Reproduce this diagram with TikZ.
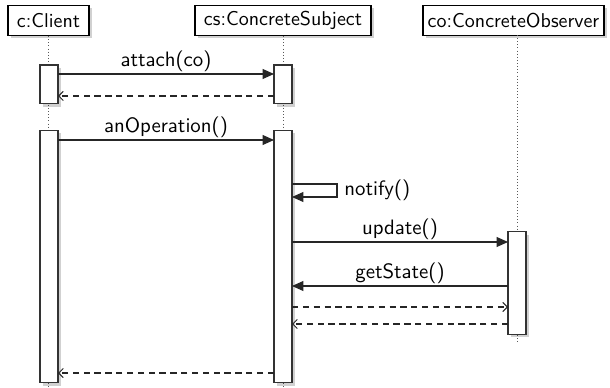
\documentclass[tikz,border=0pt]{standalone}
\usetikzlibrary{arrows.meta,shadows}
\begin{document}
\begin{tikzpicture}[x=0.48pt,y=-0.48pt,
  font=\sffamily,
  shad/.style={drop shadow={shadow xshift=1.3pt, shadow yshift=-1.3pt, opacity=0.18, fill=black}},
  obj/.style={draw=black, line width=0.6pt, fill=white, inner sep=0pt, minimum height=14.4pt, font=\sffamily\fontsize{9.6}{11}\selectfont, shad},
  act/.style={draw=black!80, line width=0.5pt, fill=white, inner sep=0pt, minimum width=8.64pt, shad},
  life/.style={dash pattern=on 0.4pt off 1.1pt, draw=black!65, line width=0.4pt},
  call/.style={-{Triangle[length=5.5pt,width=4.8pt]}, line width=0.5pt, draw=black!85},
  ret/.style={-{Straight Barb[length=2.2pt,width=4.4pt]}, dash pattern=on 3pt off 2.2pt, line width=0.5pt, draw=black!85},
  lbl/.style={above, inner sep=1pt}]

\useasboundingbox (0,0) rectangle (610,388);

% lifeline ends
\coordinate (cend) at (48.5,388);
\coordinate (send) at (283,388);
\coordinate (otop) at (517,35);
\coordinate (oend) at (517,343);

% headers
\node[obj, minimum width=38.9pt] (c) at (48.5,20.5) {c:Client};
\node[obj, minimum width=84.5pt] (s) at (283,20.5) {cs:ConcreteSubject};
\node[obj, minimum width=86.9pt] (o) at (513.5,20.5) {co:ConcreteObserver};

% lifelines
\draw[life] (c.south) -- (cend);
\draw[life] (s.south) -- (send);
\draw[life] (otop) -- (oend);

% activations
\node[act, minimum height=18.7pt] (ca1) at (49,84.5) {};
\node[act, minimum height=18.7pt] (sa1) at (283,84.5) {};
\node[act, minimum height=121.4pt] (ca2) at (49,256.5) {};
\node[act, minimum height=121.4pt] (sa2) at (283,256.5) {};
\node[act, minimum height=49pt] (oa) at (517,283) {};

% message end points
\coordinate (m1a) at (58,74);   \coordinate (m1b) at (274,74);
\coordinate (m2a) at (274,96);  \coordinate (m2b) at (58,96);
\coordinate (m3a) at (58,140);  \coordinate (m3b) at (274,140);
\coordinate (m4a) at (292,184); \coordinate (m4c) at (337,197); \coordinate (m4b) at (292,197);
\coordinate (m5a) at (292,242); \coordinate (m5b) at (508,242);
\coordinate (m6a) at (508,286); \coordinate (m6b) at (292,286);
\coordinate (m7a) at (292,307); \coordinate (m7b) at (508,307);
\coordinate (m8a) at (508,324); \coordinate (m8b) at (292,324);
\coordinate (m9a) at (274,373); \coordinate (m9b) at (58,373);

% messages
\draw[call] (m1a) -- node[lbl] {attach(co)} (m1b);
\draw[ret] (m2a) -- (m2b);
\draw[call] (m3a) -- node[lbl] {anOperation()} (m3b);
\draw[call] (m4a) -| (m4c) -- (m4b);
\node[anchor=west, inner sep=0pt] (nl) at (344,190.5) {notify()};
\draw[call] (m5a) -- node[lbl] {update()} (m5b);
\draw[call] (m6a) -- node[lbl] {getState()} (m6b);
\draw[ret] (m7a) -- (m7b);
\draw[ret] (m8a) -- (m8b);
\draw[ret] (m9a) -- (m9b);
\end{tikzpicture}
\end{document}
